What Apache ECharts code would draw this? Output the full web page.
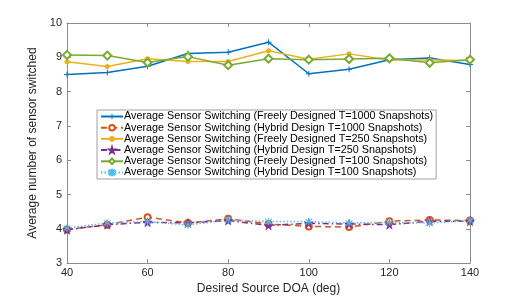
<!DOCTYPE html>
<html>
<head>
<meta charset="utf-8">
<script src="https://cdn.jsdelivr.net/npm/echarts@6/dist/echarts.min.js"></script>
<style>html,body{margin:0;padding:0;background:#fff}#c{width:520px;height:300px}</style>
</head>
<body>
<div id="c"></div>
<script>
const doa = [40, 50, 60, 70, 80, 90, 100, 110, 120, 130, 140];
const freelyT1000 = [8.50, 8.56, 8.74, 9.11, 9.15, 9.44, 8.52, 8.65, 8.93, 8.98, 8.79];
const hybridT1000 = [3.98, 4.12, 4.34, 4.17, 4.29, 4.14, 4.07, 4.05, 4.22, 4.26, 4.24];
const freelyT250 = [8.87, 8.73, 8.96, 8.88, 8.88, 9.19, 8.94, 9.10, 8.92, 8.92, 8.91];
const hybridT250 = [3.97, 4.12, 4.19, 4.17, 4.24, 4.10, 4.16, 4.14, 4.12, 4.22, 4.22];
const freelyT100 = [9.07, 9.05, 8.85, 9.02, 8.77, 8.96, 8.93, 8.95, 8.97, 8.84, 8.93];
const hybridT100 = [4.02, 4.17, 4.21, 4.11, 4.26, 4.21, 4.21, 4.17, 4.19, 4.17, 4.24];
const seriesNames = [
  'Average Sensor Switching (Freely Designed T=1000 Snapshots)',
  'Average Sensor Switching (Hybrid Design T=1000 Snapshots)',
  'Average Sensor Switching (Freely Designed T=250 Snapshots)',
  'Average Sensor Switching (Hybrid Design T=250 Snapshots)',
  'Average Sensor Switching (Freely Designed T=100 Snapshots)',
  'Average Sensor Switching (Hybrid Design T=100 Snapshots)'
];
const xLabel = 'Desired Source DOA (deg)';
const yLabel = 'Average number of sensor switched';

const pairs = ys => doa.map((x, i) => [x, ys[i]]);
const font = 'Liberation Sans, Arial, Helvetica, sans-serif';
const plusPath = 'path://M4.2,0H5.8V4.2H10V5.8H5.8V10H4.2V5.8H0V4.2H4.2Z';
const starPath = 'path://M50,0L61,35H98L68,57L79,91L50,70L21,91L32,57L2,35H39Z';
const astPath = 'path://M4.5,0H5.5V4.3L8.6,1.1L9.3,1.8L6.2,5L9.3,8.2L8.6,8.9L5.5,5.7V10H4.5V5.7L1.4,8.9L0.7,8.2L3.8,5L0.7,1.8L1.4,1.1L4.5,4.3Z';

const axisCol = '#8c8c8c';
const textCol = '#262626';

function mk(name, data, color, symbol, size, ltype, bw) {
  return {
    name, type: 'line', data: pairs(data),
    symbol, symbolSize: size, showSymbol: true,
    lineStyle: { color, width: 1.5, type: ltype },
    itemStyle: { color, borderColor: color, borderWidth: bw || 0 },
    emphasis: { disabled: true },
    animation: false, z: 3
  };
}

const chart = echarts.init(document.getElementById('c'), null, { renderer: 'canvas' });
chart.setOption({
  animation: false,
  backgroundColor: '#fff',
  textStyle: { fontFamily: font },
  grid: { left: 67, right: 50, top: 23, bottom: 34, containLabel: false },
  legend: {
    orient: 'vertical', left: 97, top: 110,
    backgroundColor: '#fff', borderColor: '#a0a0a0', borderWidth: 1,
    padding: [1, 3, 1, 3], itemGap: 0.2, itemWidth: 22, itemHeight: 7,
    textStyle: { fontFamily: font, fontSize: 10.8, color: '#000', lineHeight: 10, padding: [0, 0, 0, -4] },
    data: seriesNames
  },
  xAxis: [{
    type: 'value', min: 40, max: 140, interval: 20,
    name: xLabel, nameLocation: 'middle', nameGap: 19,
    nameTextStyle: { fontFamily: font, fontSize: 12, color: textCol },
    axisLine: { show: true, lineStyle: { color: axisCol, width: 1 } },
    axisTick: { show: true, inside: true, length: 4, lineStyle: { color: axisCol } },
    axisLabel: { fontFamily: font, fontSize: 11, color: textCol, margin: 4 },
    splitLine: { show: false }
  }, {
    type: 'value', min: 40, max: 140, interval: 20, position: 'top',
    axisLine: { show: true, lineStyle: { color: axisCol, width: 1 } },
    axisTick: { show: true, inside: true, length: 4, lineStyle: { color: axisCol } },
    axisLabel: { show: false }, splitLine: { show: false }
  }],
  yAxis: [{
    type: 'value', min: 3, max: 10, interval: 1,
    name: yLabel, nameLocation: 'middle', nameGap: 24,
    nameTextStyle: { fontFamily: font, fontSize: 12, color: textCol },
    axisLine: { show: true, lineStyle: { color: axisCol, width: 1 } },
    axisTick: { show: true, inside: true, length: 4, lineStyle: { color: axisCol } },
    axisLabel: { fontFamily: font, fontSize: 11, color: textCol, margin: 5 },
    splitLine: { show: false }
  }, {
    type: 'value', min: 3, max: 10, interval: 1, position: 'right',
    axisLine: { show: true, lineStyle: { color: axisCol, width: 1 } },
    axisTick: { show: true, inside: true, length: 4, lineStyle: { color: axisCol } },
    axisLabel: { show: false }, splitLine: { show: false }
  }],
  series: [
    mk(seriesNames[0], freelyT1000, '#0072BD', plusPath, 6, 'solid'),
    mk(seriesNames[1], hybridT1000, '#D95319', 'emptyCircle', 6, [6, 4], 1.5),
    mk(seriesNames[2], freelyT250, '#EDB120', 'circle', 5, 'solid'),
    mk(seriesNames[3], hybridT250, '#7E2F8E', starPath, 9, [6, 3, 1.5, 3], 0.6),
    mk(seriesNames[4], freelyT100, '#77AC30', 'emptyDiamond', 8, 'solid', 1.8),
    mk(seriesNames[5], hybridT100, '#4DBEEE', astPath, 7, [1.5, 2], 0.4)
  ]
});
</script>
</body>
</html>
